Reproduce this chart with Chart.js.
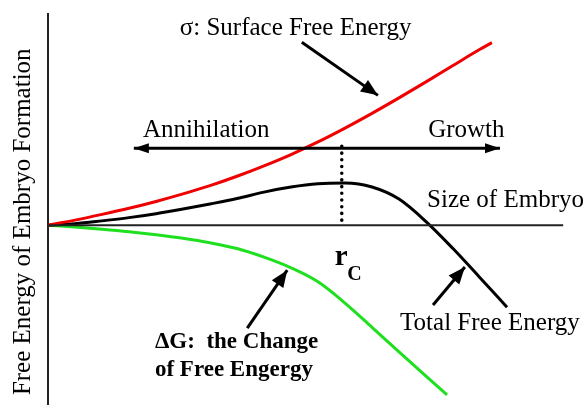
<!DOCTYPE html>
<html>
<head>
<meta charset="utf-8">
<script src="https://cdn.jsdelivr.net/npm/chart.js@4/dist/chart.umd.min.js"></script>
<style>
  body { margin: 0; background: #fff; }
</style>
</head>
<body>
<canvas id="energyGraph" width="588" height="405"></canvas>
<script>
// embryo size (x) and free energy (y)
const sizeRed = [0, 0.5, 1, 1.5, 2, 2.5, 3, 3.5, 4, 4.5, 5, 5.5, 6, 6.5, 7, 7.5, 8, 8.22];
const surfaceEnergy = [0, 0.28, 0.6, 0.94, 1.32, 1.74, 2.2, 2.72, 3.3, 3.93, 4.63, 5.4, 6.22, 7.08, 7.97, 8.88, 9.78, 10.15];

const sizeBlack = [0, 0.5, 1, 1.5, 2, 2.5, 3, 3.5, 4, 4.5, 5, 5.5, 6, 6.5, 7, 7.5, 8, 8.5];
const totalEnergy = [0, 0.08, 0.24, 0.42, 0.64, 0.9, 1.18, 1.48, 1.84, 2.12, 2.3, 2.34, 2.12, 1.45, 0.2, -1.3, -2.92, -4.56];

const sizeGreen = [0, 0.5, 1, 1.5, 2, 2.5, 3, 3.5, 4, 4.5, 5, 5.5, 6, 6.5, 7, 7.39];
const volumeEnergy = [0, -0.1, -0.22, -0.36, -0.53, -0.73, -0.98, -1.3, -1.78, -2.37, -3.15, -4.33, -5.68, -7.05, -8.4, -9.44];

const sizeAxisEnd = 9.54;
const criticalSize = 5.44;
const criticalSpan = [0.28, 4.72];

const yTitle = 'Free Energy of Embryo Formation';

const toPoints = (xs, ys) => xs.map((x, i) => ({ x: x, y: ys[i] }));

// text labels and arrows, placed in data units
const labels = [
  { text: 'σ: Surface Free Energy', x: 2.44, y: 10.56, font: '25px "Liberation Serif", serif' },
  { text: 'Annihilation', x: 1.76, y: 4.89, font: '25px "Liberation Serif", serif' },
  { text: 'Growth', x: 7.04, y: 4.89, font: '25px "Liberation Serif", serif' },
  { text: 'Size of Embryo', x: 7.02, y: 1.0, font: '25px "Liberation Serif", serif' },
  { text: 'Total Free Energy', x: 6.52, y: -5.83, font: '25px "Liberation Serif", serif' },
  { text: 'ΔG:  the Change', x: 1.98, y: -6.83, font: 'bold 23px "Liberation Serif", serif' },
  { text: 'of Free Engergy', x: 1.98, y: -8.39, font: 'bold 23px "Liberation Serif", serif' },
  { text: 'r', x: 5.31, y: -2.22, font: 'bold 29px "Liberation Serif", serif' },
  { text: 'C', x: 5.54, y: -3.06, font: 'bold 20px "Liberation Serif", serif' }
];

const arrows = [
  { from: [4.70, 10.17], to: [6.11, 7.22], both: false },
  { from: [3.69, -5.72], to: [4.43, -2.5], both: false },
  { from: [7.13, -4.44], to: [7.72, -2.33], both: false },
  { from: [1.59, 4.28], to: [8.37, 4.28], both: true }
];

function arrowHead(ctx, x0, y0, x1, y1, len, half) {
  const a = Math.atan2(y1 - y0, x1 - x0);
  ctx.beginPath();
  ctx.moveTo(x1, y1);
  ctx.lineTo(x1 - len * Math.cos(a) + half * Math.sin(a), y1 - len * Math.sin(a) - half * Math.cos(a));
  ctx.lineTo(x1 - len * Math.cos(a) - half * Math.sin(a), y1 - len * Math.sin(a) + half * Math.cos(a));
  ctx.closePath();
  ctx.fill();
}

const annotationPlugin = {
  id: 'annotations',
  beforeDatasetsDraw(chart) {
    // vertical energy axis along the left edge of the plot area
    const ctx = chart.ctx;
    const area = chart.chartArea;
    ctx.save();
    ctx.strokeStyle = '#222';
    ctx.lineWidth = 2;
    ctx.beginPath();
    ctx.moveTo(area.left, area.top);
    ctx.lineTo(area.left, area.bottom);
    ctx.stroke();
    ctx.restore();
  },
  afterDraw(chart) {
    const ctx = chart.ctx;
    const xs = chart.scales.x;
    const ys = chart.scales.y;
    ctx.save();
    ctx.fillStyle = '#000';
    ctx.strokeStyle = '#000';
    ctx.textBaseline = 'alphabetic';
    ctx.textAlign = 'left';

    labels.forEach(l => {
      ctx.font = l.font;
      ctx.fillText(l.text, xs.getPixelForValue(l.x), ys.getPixelForValue(l.y));
    });

    arrows.forEach(a => {
      const x0 = xs.getPixelForValue(a.from[0]);
      const y0 = ys.getPixelForValue(a.from[1]);
      const x1 = xs.getPixelForValue(a.to[0]);
      const y1 = ys.getPixelForValue(a.to[1]);
      ctx.lineWidth = 3;
      ctx.beginPath();
      ctx.moveTo(x0, y0);
      ctx.lineTo(x1, y1);
      ctx.stroke();
      if (a.both) {
        arrowHead(ctx, x0, y0, x1, y1, 15, 5);
        arrowHead(ctx, x1, y1, x0, y0, 15, 5);
      } else {
        arrowHead(ctx, x0, y0, x1, y1, 17, 7);
      }
    });

    // y axis title
    ctx.font = '25px "Liberation Serif", serif';
    ctx.textAlign = 'center';
    ctx.translate(chart.chartArea.left - 18, ys.getPixelForValue(0.19));
    ctx.rotate(-Math.PI / 2);
    ctx.fillText(yTitle, 0, 0);
    ctx.restore();
  }
};

new Chart(document.getElementById('energyGraph'), {
  type: 'line',
  data: {
    datasets: [
      {
        label: 'Size of Embryo',
        data: toPoints([0, sizeAxisEnd], [0, 0]),
        borderColor: '#222',
        borderWidth: 2,
        pointRadius: 0,
        tension: 0
      },
      {
        label: 'Surface Free Energy',
        data: toPoints(sizeRed, surfaceEnergy),
        borderColor: '#f00000',
        borderWidth: 3,
        pointRadius: 0,
        cubicInterpolationMode: 'monotone'
      },
      {
        label: 'Total Free Energy',
        data: toPoints(sizeBlack, totalEnergy),
        borderColor: '#000',
        borderWidth: 3,
        pointRadius: 0,
        cubicInterpolationMode: 'monotone'
      },
      {
        label: 'Change of Free Energy',
        data: toPoints(sizeGreen, volumeEnergy),
        borderColor: '#1ee01e',
        borderWidth: 3,
        pointRadius: 0,
        cubicInterpolationMode: 'monotone'
      },
      {
        label: 'rC',
        data: toPoints([criticalSize, criticalSize], criticalSpan),
        borderColor: '#000',
        borderWidth: 3.5,
        borderDash: [0.1, 6.6],
        borderCapStyle: 'round',
        pointRadius: 0,
        tension: 0
      }
    ]
  },
  options: {
    responsive: false,
    animation: false,
    layout: {
      padding: { left: 48, top: 13, right: 0, bottom: 0 }
    },
    plugins: {
      legend: { display: false },
      tooltip: { enabled: false }
    },
    scales: {
      x: {
        type: 'linear',
        min: 0,
        max: 10,
        display: false
      },
      y: {
        type: 'linear',
        min: -10,
        max: 11.8,
        display: false
      }
    }
  },
  plugins: [annotationPlugin]
});
</script>
</body>
</html>
